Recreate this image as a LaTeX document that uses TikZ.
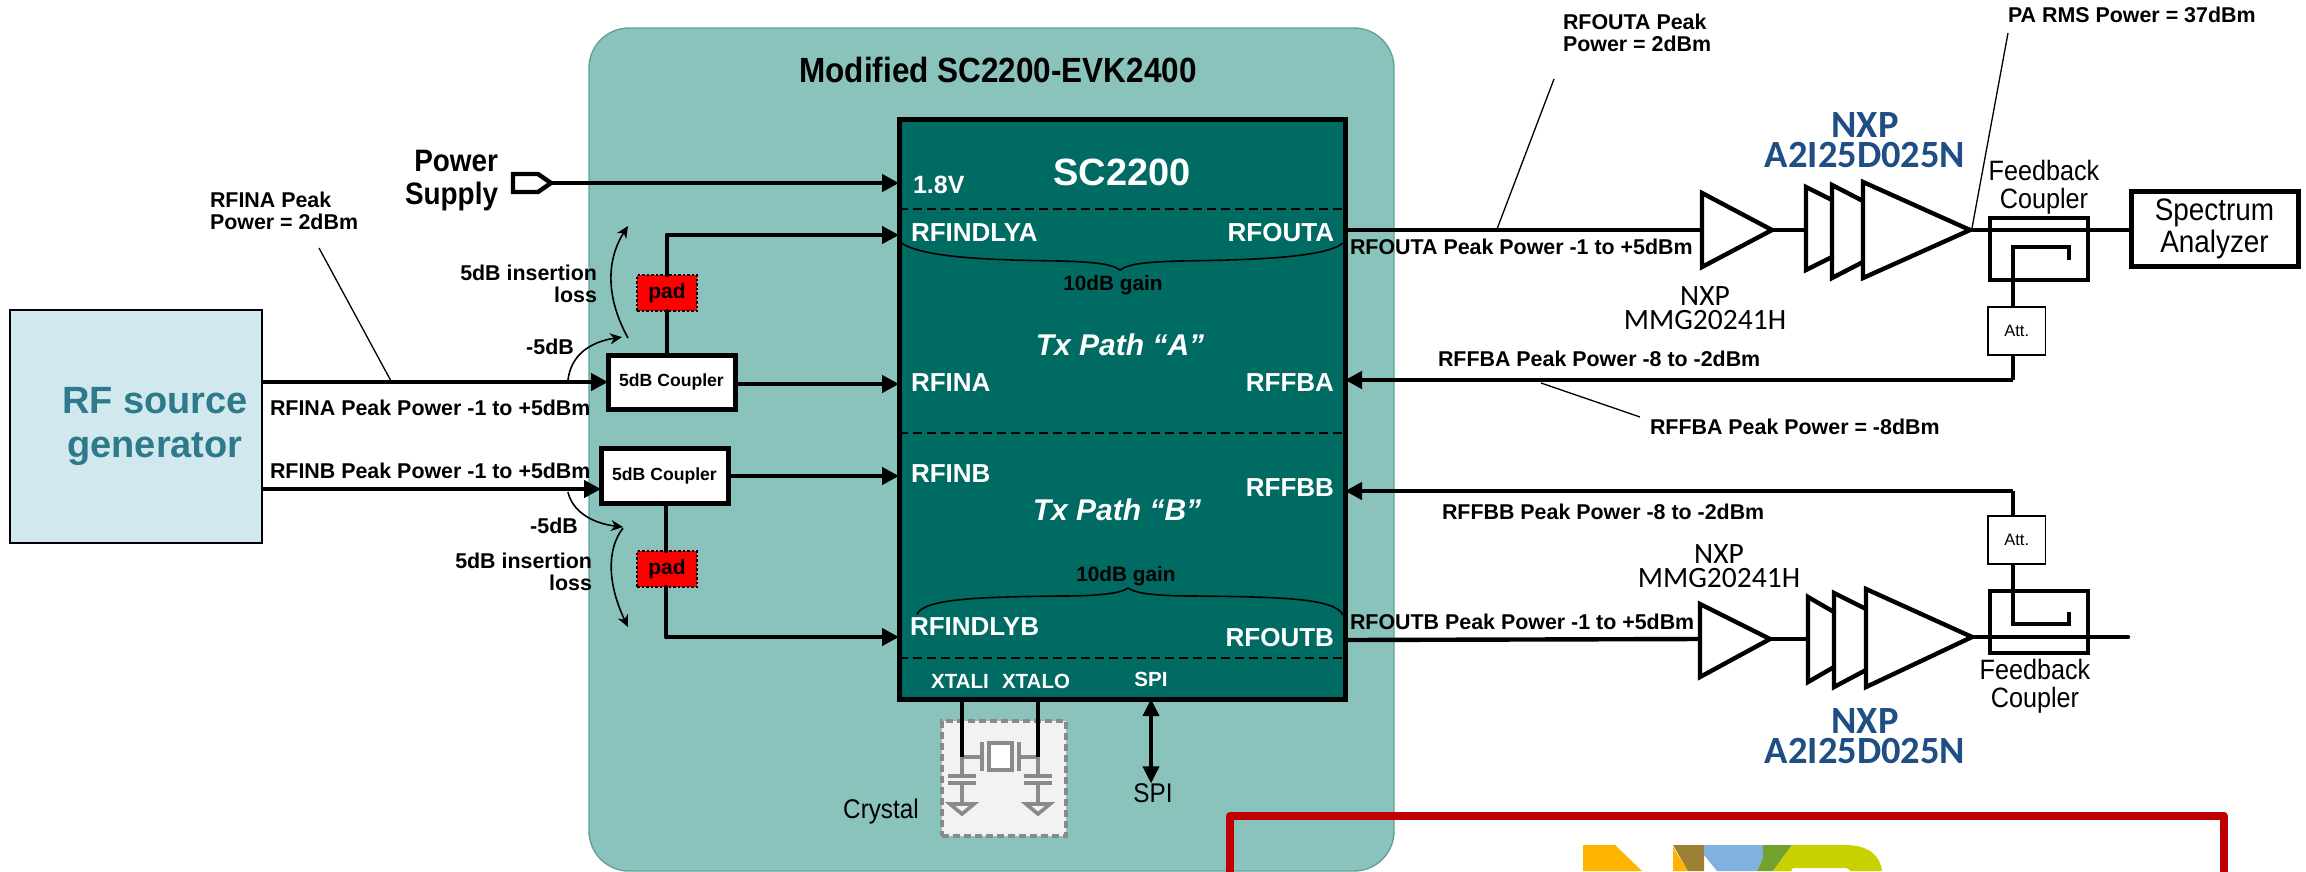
\documentclass[tikz,border=0pt]{standalone}
\usepackage{fontspec}
\setmainfont{Liberation Sans}
\newfontfamily\calfont{Carlito}
\newfontfamily\condf[FakeStretch=0.9]{Liberation Sans}
\usetikzlibrary{arrows.meta}
\definecolor{boardc}{HTML}{8AC3BB}
\definecolor{boardb}{HTML}{5FA39B}
\definecolor{chipc}{HTML}{006B63}
\definecolor{srcc}{HTML}{D1E9EE}
\definecolor{srct}{HTML}{2E7A8A}
\definecolor{nxpb}{HTML}{1F4E85}
\definecolor{redb}{HTML}{C00000}
\definecolor{xgray}{HTML}{8A8A8A}
\definecolor{lgy}{HTML}{FFB500}
\definecolor{lgb}{HTML}{9B8034}
\definecolor{lgl}{HTML}{7FB2DE}
\definecolor{lgg}{HTML}{73A02E}
\definecolor{lgp}{HTML}{C9D200}
\newcommand{\fs}[1]{\fontsize{#1pt}{#1pt}\selectfont}
% name, x1,y1,x2,y2, style, text
\newcommand{\bx}[7]{%
  \pgfmathsetmacro{\bxcx}{(#2+#4)/2}\pgfmathsetmacro{\bxcy}{(#3+#5)/2}%
  \pgfmathsetmacro{\bxw}{#4-#2}\pgfmathsetmacro{\bxh}{#5-#3}%
  \node[#6,minimum width=\bxw pt,minimum height=\bxh pt] (#1) at (\bxcx,\bxcy) {#7};}
\tikzset{
  base/.style={inner sep=0pt,outer sep=0pt},
  lbl/.style={base,font=\fs{21.4}\bfseries,text=black,align=left},
  lblL/.style={lbl,anchor=west},
  lblR/.style={lbl,anchor=east,align=right},
  chipL/.style={base,font=\fs{26}\bfseries,text=white},
  xtal/.style={base,font=\fs{20.5}\bfseries,text=white},
  sig/.style={line width=4.4pt,-{Triangle[length=17pt,width=17pt]},shorten >=0pt},
  wire/.style={line width=4.4pt,line cap=round},
  thin/.style={line width=1.3pt},
  curv/.style={line width=1.6pt,-{Stealth[length=12pt,width=11pt]}},
  brace/.style={line width=1.6pt,draw=black},
  cpl/.style={base,draw=black,line width=5pt,fill=white,font=\fs{17.6}\bfseries},
  padb/.style={base,draw=black,dash pattern=on 2.5pt off 2pt,line width=1.6pt,fill=red,font=\fs{21}\bfseries},
  amp/.style={draw=black,line width=4.4pt,fill=white,line join=miter},
  attb/.style={base,draw=black,line width=1.8pt,fill=white,font=\fs{16.5}},
  nxpl/.style={base,font=\calfont\fs{38.5}\bfseries,text=nxpb,align=center},
  nxpm/.style={base,font=\calfont\fs{29.5},align=center},
  fbk/.style={base,font=\condf\fs{28},align=center},
  gpart/.style={draw=xgray,line width=3.6pt},
}
\begin{document}
\begin{tikzpicture}[x=1pt,y=-1pt]
\useasboundingbox (0,0) rectangle (2306,871);
% board
\fill[white] (0,0) rectangle (2306,871);
\begin{scope}
\clip (0,0) rectangle (2306,871);
\node[base,draw=boardb,line width=1.4pt,fill=boardc,rounded corners=40pt,minimum width=805pt,minimum height=843pt] (board) at (991.5,449.5) {};
\end{scope}
\node[base,font=\condf\fs{35}\bfseries] (boardt) at (998,70) {Modified SC2200-EVK2400};
% chip
\bx{chip}{899}{119}{1345}{699}{base,draw=black,line width=5pt,fill=chipc}{}
\draw[line width=1.6pt,dash pattern=on 9pt off 5pt] (chip.west|-0,209) coordinate (d1l) -- (chip.east|-0,209) coordinate (d1r);
\draw[line width=1.6pt,dash pattern=on 9pt off 5pt] (chip.west|-0,433) coordinate (d2l) -- (chip.east|-0,433) coordinate (d2r);
\draw[line width=1.6pt,dash pattern=on 9pt off 5pt] (chip.west|-0,658) coordinate (d3l) -- (chip.east|-0,658) coordinate (d3r);
\node[base,font=\fs{38}\bfseries,text=white] (sct) at (1122,172) {SC2200};
\node[chipL,anchor=west,font=\fs{25}\bfseries] (v18) at (913,185) {1.8V};
\node[chipL,anchor=west] (rfdlya) at (911,233) {RFINDLYA};
\node[chipL,anchor=east] (rfouta) at (1334,233) {RFOUTA};
\node[chipL,anchor=west] (rfina) at (911,383) {RFINA};
\node[chipL,anchor=east] (rffba) at (1334,383) {RFFBA};
\node[chipL,anchor=west] (rfinb) at (911,474) {RFINB};
\node[chipL,anchor=east] (rffbb) at (1334,488) {RFFBB};
\node[chipL,anchor=west] (rfdlyb) at (910,627) {RFINDLYB};
\node[chipL,anchor=east] (rfoutb) at (1334,638) {RFOUTB};
\node[base,font=\fs{30}\bfseries\itshape,text=white] (txa) at (1120,345) {Tx Path “A”};
\node[base,font=\fs{30}\bfseries\itshape,text=white] (txb) at (1117,510) {Tx Path “B”};
\node[base,font=\fs{20.8}\bfseries] (g1) at (1113,285) {10dB gain};
\node[base,font=\fs{20.8}\bfseries] (g2) at (1126,576) {10dB gain};
\draw[brace] (901,243) .. controls (925,258) and (990,260) .. (1060,261) .. controls (1095,262) and (1112,264) .. (1120,270)
 .. controls (1128,264) and (1145,262) .. (1180,261) .. controls (1250,260) and (1325,258) .. (1343,243);
\draw[brace] (917,614) .. controls (925,598) and (985,597) .. (1060,596) .. controls (1095,596) and (1120,594) .. (1128,588)
 .. controls (1136,594) and (1160,596) .. (1195,596) .. controls (1280,597) and (1335,598) .. (1343,615);
\node[xtal] (xi) at (960,681) {XTALI};
\node[xtal] (xo) at (1036,681) {XTALO};
\node[xtal] (spii) at (1151,679) {SPI};
% RF source
\bx{src}{10}{310}{262}{543}{base,draw=black,line width=2.5pt,fill=srcc}{}
\node[base,font=\fs{38}\bfseries,text=srct,align=center] (srct) at (155,426) {RF source\\[6pt]generator};
% power
\node[base,font=\condf\fs{31}\bfseries,align=right,anchor=east] (pw) at (498,181) {Power\\[2pt]Supply};
\coordinate (pwt) at (551,183);
\draw[line width=4.4pt,line join=miter,fill=white] (513,174) -- (538,174) -- (pwt) -- (538,192) -- (513,192) -- cycle;
\coordinate (pin) at (chip.west|-0,183);
\draw[sig] (pwt) -- (pin);
% couplers & pads
\bx{ca}{608}{355}{735}{409}{cpl}{5dB Coupler}
\bx{cb}{601}{448}{728}{503}{cpl}{5dB Coupler}
\bx{pa}{637}{275}{697}{311}{padb}{pad}
\bx{pb}{637}{551}{697}{587}{padb}{pad}
\coordinate (ina) at (chip.west|-0,235);
\coordinate (inb) at (chip.west|-0,637);
\coordinate (ja) at (667,235);
\coordinate (jb) at (666,637);
\draw[wire] (ca.north-|667,0) -- (pa.south-|667,0);
\draw[wire] (pa.north-|667,0) -- (ja);
\draw[sig] (ja) -- (ina);
\draw[wire] (cb.south-|666,0) -- (pb.north-|666,0);
\draw[wire] (pb.south-|666,0) -- (jb);
\draw[sig] (jb) -- (inb);
\coordinate (s1) at (262,382); \coordinate (s2) at (262,489);
\draw[sig] (s1) -- (ca.west|-s1);
\draw[sig] (s2) -- (cb.west|-s2);
\coordinate (ca1) at (737,384); \coordinate (cb1) at (730,476);
\draw[sig] (ca1) -- (chip.west|-ca1);
\draw[sig] (cb1) -- (chip.west|-cb1);
% curved arrows
\coordinate (k1) at (568,380); \coordinate (k2) at (622,337); \coordinate (k3) at (628,338); \coordinate (k4) at (628,226);
\draw[curv] (k1) .. controls (571,355) and (590,342) .. (k2);
\draw[curv] (k3) .. controls (607,300) and (605,262) .. (k4);
\coordinate (m1) at (568,492); \coordinate (m2) at (623,527); \coordinate (m3) at (623,528); \coordinate (m4) at (628,627);
\draw[curv] (m1) .. controls (572,510) and (590,523) .. (m2);
\draw[curv] (m3) .. controls (606,550) and (608,585) .. (m4);
% labels left
\node[lblL] (l1) at (210,211) {RFINA Peak\\[1pt]Power = 2dBm};
\coordinate (la) at (319,248); \coordinate (lb) at (391,381);
\draw[thin] (la) -- (lb);
\node[lblL] (l2) at (270,408) {RFINA Peak Power -1 to +5dBm};
\node[lblL] (l3) at (270,471) {RFINB Peak Power -1 to +5dBm};
\node[lblR] (l4) at (597,284) {5dB insertion\\[1pt]loss};
\node[lblR] (l5) at (592,572) {5dB insertion\\[1pt]loss};
\node[lbl] (l6) at (550,347) {-5dB};
\node[lbl] (l7) at (554,526) {-5dB};
% crystal
\bx{xb}{942}{721}{1066}{836}{base,draw=xgray,line width=3.6pt,dash pattern=on 7pt off 4pt,fill=black!5}{}
\coordinate (x1) at (962,757); \coordinate (x2) at (1038,757);
\draw[gpart] (x1) -- (982,757) (982,742) -- (982,771) (1019,742) -- (1019,771) (1019,757) -- (x2);
\draw[gpart,fill=white] (989,743) rectangle (1012,770);
\foreach \cx in {962,1038}{
  \draw[gpart] (\cx,757) -- (\cx,776) (\cx-14,776) -- (\cx+14,776) (\cx-14,783) -- (\cx+14,783) (\cx,783) -- (\cx,803);
  \draw[gpart,fill=black!5,line join=miter] (\cx-12,804) -- (\cx+12,804) -- (\cx,814) -- cycle;
}
\draw[line width=4.4pt] (chip.south-|x1) -- (x1);
\draw[line width=4.4pt] (chip.south-|x2) -- (x2);
\node[base,font=\condf\fs{27}] (cry) at (881,812) {Crystal};
\node[base,font=\condf\fs{27}] (spio) at (1153,793) {SPI};
\draw[line width=3.6pt,{Triangle[length=17pt,width=16pt]}-{Triangle[length=17pt,width=16pt]}] (chip.south-|1151,0) -- (spio.north-|1151,0);
% red box
\draw[redb,line width=8pt,line join=round] (1230,880) -- (1230,816) -- (2224,816) -- (2224,880);
\begin{scope}
\clip (0,0) rectangle (2306,871);
\fill[lgy] (1583,845) -- (1615,845) -- (1642,871) -- (1583,871) -- cycle;
\fill[lgy] (1673,847) -- (1688,871) -- (1673,871) -- cycle;
\fill[lgb] (1673,845) -- (1704,845) -- (1704,871) -- (1688,871) -- cycle;
\fill[lgl] (1704,845) -- (1763,845) -- (1763,858) -- (1757,871) -- (1717,871) -- (1704,855) -- cycle;
\fill[lgg] (1763,845) -- (1792,845) -- (1773,871) -- (1757,871) -- (1763,858) -- cycle;
\fill[lgp] (1792,845) -- (1845,845) .. controls (1868,845) and (1880,855) .. (1882,871) -- (1850,871) .. controls (1849,869) and (1848,868) .. (1845,868) -- (1793,868) -- (1791,871) -- (1773,871) -- cycle;
\end{scope}
% upper path A
\coordinate (oa) at (chip.east|-0,230);
\coordinate (a1t) at (1772,230); \coordinate (a1i) at (1702,230);
\draw[wire,line cap=butt] (oa) -- (a1i);
\draw[amp] (1702,193) -- (a1t) -- (1702,267) -- cycle;
\coordinate (a2i) at (1806,230);
\draw[wire,line cap=butt] (a1t) -- (a2i);
\draw[amp,fill=none,line cap=round] (1832,200) -- (1806,187) -- (1806,270) -- (1832,257);
\draw[amp,fill=none,line cap=round] (1863,201) -- (1832,185) -- (1832,278) -- (1863,262);
\draw[amp] (1863,182) -- (1970,230) -- (1863,278) -- cycle;
\coordinate (a4t) at (1970,230);
\bx{cpa}{1990}{218}{2088}{280}{base,draw=black,line width=4.6pt}{}
\bx{spec}{2131}{191}{2298}{266}{base,draw=black,line width=5pt,fill=white,font=\condf\fs{31},align=center}{Spectrum\\[1pt]Analyzer}
\draw[wire,line cap=butt] (a4t) -- (spec.west|-a4t);
\bx{ata}{1988}{307}{2045.5}{355}{attb}{Att.}
\coordinate (ha) at (2013,247); \coordinate (hb) at (2069,247); \coordinate (hc) at (2069,260);
\draw[line width=4.4pt,line join=miter,line cap=butt] (hc) -- (hb) -- (ha) -- (ata.north-|ha);
\coordinate (fa) at (2013,380);
\draw[line width=4.4pt,line join=round] (ata.south-|fa) -- (fa);
\draw[sig] (fa) -- (chip.east|-fa);
% lower path B
\coordinate (ob) at (chip.east|-0,640);
\coordinate (b1i) at (1700,639); \coordinate (b1t) at (1770,639);
\draw[wire,line cap=butt] (ob) -- (b1i);
\draw[amp] (1700,604) -- (b1t) -- (1700,677) -- cycle;
\coordinate (b2i) at (1808,639);
\draw[wire,line cap=butt] (b1t) -- (b2i);
\draw[amp,fill=none,line cap=round] (1834,612) -- (1808,597) -- (1808,682) -- (1834,667);
\draw[amp,fill=none,line cap=round] (1866,609) -- (1834,593) -- (1834,687) -- (1866,670);
\draw[amp] (1866,589) -- (1972,637) -- (1866,687) -- cycle;
\coordinate (b4t) at (1972,637); \coordinate (bend) at (2128,637);
\bx{cpb}{1990}{591}{2088}{653}{base,draw=black,line width=4.6pt}{}
\draw[wire] (b4t) -- (bend);
\bx{atb}{1988}{516}{2045.5}{564}{attb}{Att.}
\coordinate (ga) at (2013,624); \coordinate (gb) at (2069,624); \coordinate (gc) at (2069,612);
\draw[line width=4.4pt,line join=miter,line cap=butt] (atb.south-|ga) -- (ga) -- (gb) -- (gc);
\coordinate (fb) at (2013,491);
\draw[line width=4.4pt,line join=round] (atb.north-|fb) -- (fb);
\draw[sig] (fb) -- (chip.east|-fb);
% right labels
\node[lblL] (r1) at (1563,33) {RFOUTA Peak\\[1pt]Power = 2dBm};
\coordinate (r1a) at (1554,79); \coordinate (r1b) at (1497,229);
\draw[thin] (r1a) -- (r1b);
\node[lblL] (r2) at (2008,15) {PA RMS Power = 37dBm};
\coordinate (r2a) at (2008,33); \coordinate (r2b) at (1972,228);
\draw[thin] (r2a) -- (r2b);
\node[lblL] (r3) at (1350,247) {RFOUTA Peak Power -1 to +5dBm};
\node[lblL] (r4) at (1350,622) {RFOUTB Peak Power -1 to +5dBm};
\node[lblL] (r5) at (1438,359) {RFFBA Peak Power -8 to -2dBm};
\node[lblL] (r6) at (1442,512) {RFFBB Peak Power -8 to -2dBm};
\node[lblL] (r7) at (1650,427) {RFFBA Peak Power = -8dBm};
\coordinate (r7a) at (1541,383); \coordinate (r7b) at (1640,417);
\draw[thin] (r7a) -- (r7b);
\node[nxpl] (n1) at (1865,140) {NXP\\[-8pt]A2I25D025N};
\node[nxpl] (n2) at (1865,736) {NXP\\[-8pt]A2I25D025N};
\node[nxpm] (n3) at (1705,308) {NXP\\[-6pt]MMG20241H};
\node[nxpm] (n4) at (1719,566) {NXP\\[-6pt]MMG20241H};
\node[fbk] (f1) at (2044,187) {Feedback\\[0pt]Coupler};
\node[fbk] (f2) at (2035,686) {Feedback\\[0pt]Coupler};
\end{tikzpicture}
\end{document}
